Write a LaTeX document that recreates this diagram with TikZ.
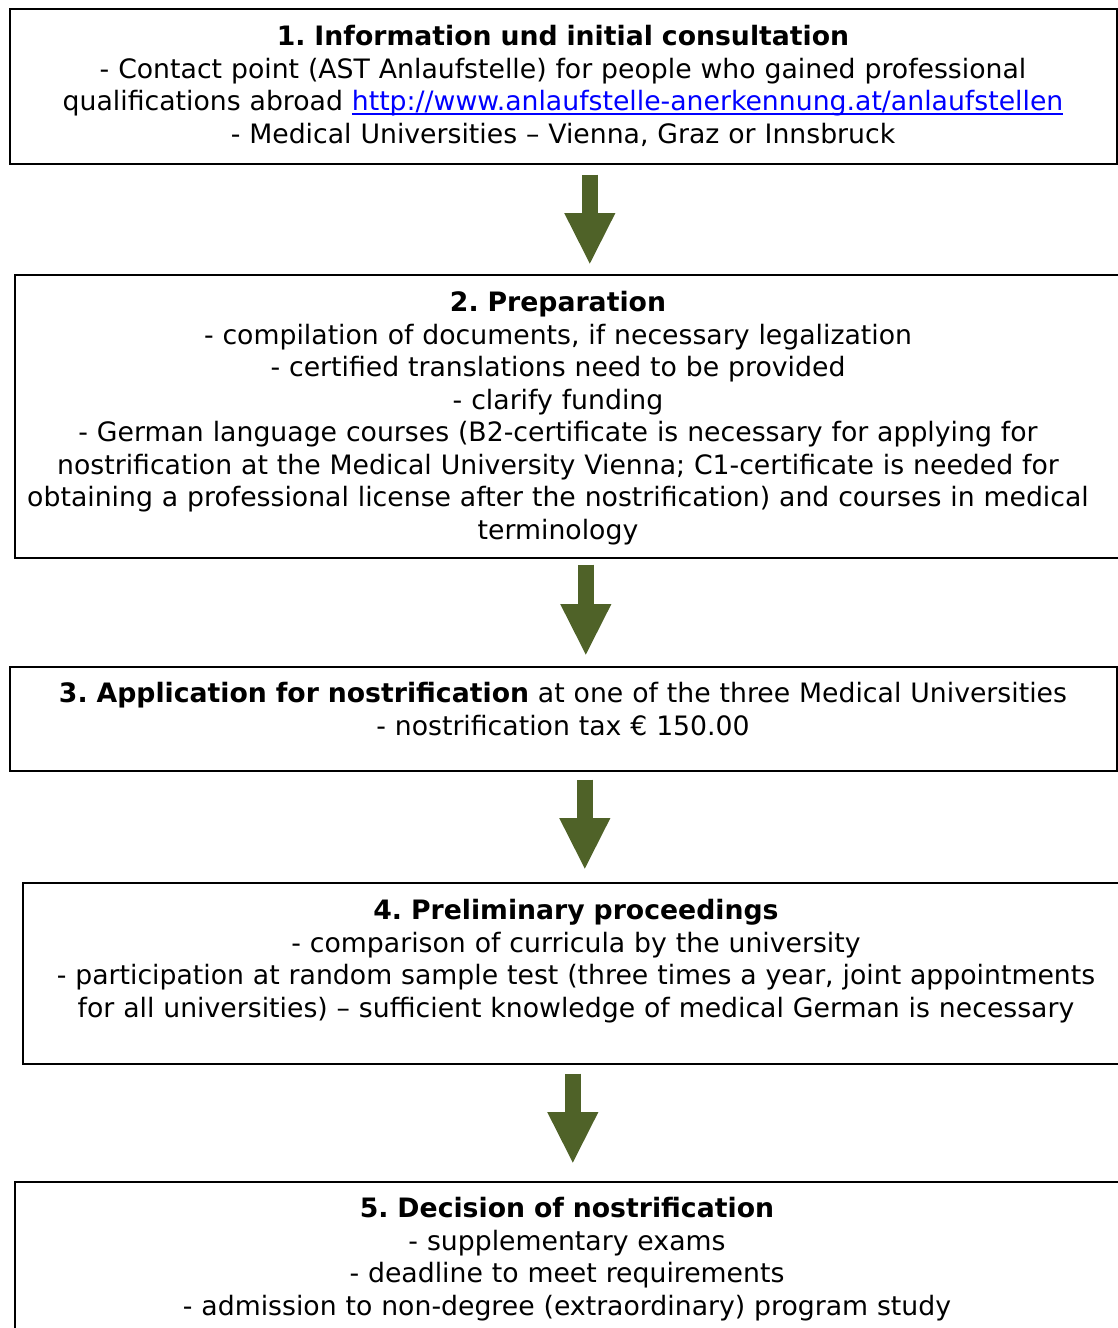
\documentclass[tikz,border=0pt]{standalone}
\usepackage{fontspec}
\setmainfont{DejaVu Sans}
\usetikzlibrary{arrows.meta}
\definecolor{arrowgreen}{HTML}{4F6228}
\definecolor{linkblue}{HTML}{0000FF}
\newcommand\linkline[1]{\setbox0\hbox{#1}\rlap{\raisebox{-4pt}{\rule{\wd0}{1.6pt}}}\box0}
\frenchspacing

\begin{document}
\begin{tikzpicture}[x=1pt,y=1pt,
    stepframe/.style={draw, line width=1.6pt, inner sep=0pt, anchor=north west},
    steptext/.style={inner sep=0pt, text width=1110pt, align=center, anchor=base,
      font=\fontsize{26.7}{32.5}\selectfont},
    flow/.style={arrowgreen, line width=16pt, -{Triangle[width=47pt,length=52pt]}}]
             \useasboundingbox (0,0) rectangle (1118,-1328);
             \node[stepframe, minimum width=1107pt, minimum height=155pt] (b1) at (9,-8) {};
             \node[stepframe, minimum width=1111pt, minimum height=283pt] (b2) at (14,-274) {};
             \node[stepframe, minimum width=1107pt, minimum height=104pt] (b3) at (9,-666) {};
             \node[stepframe, minimum width=1103pt, minimum height=181pt] (b4) at (22,-882) {};
             \node[stepframe, minimum width=1111pt, minimum height=159pt] (b5) at (14,-1181) {};
             \node[steptext] (t1) at (563,-45.5) {\textbf{1. Information und initial consultation}\\
               - Contact point (AST Anlaufstelle) for people who gained professional\\
               qualifications abroad \textcolor{linkblue}{\linkline{http://www.anlaufstelle-anerkennung.at/anlaufstellen}}\\
               - Medical Universities – Vienna, Graz or Innsbruck};
             \node[steptext] (t2) at (558,-311.5) {\textbf{2. Preparation}\\
               - compilation of documents, if necessary legalization\\
               - certified translations need to be provided\\
               - clarify funding\\
               - German language courses (B2-certificate is necessary for applying for\\
               nostrification at the Medical University Vienna; C1-certificate is needed for\\
               obtaining a professional license after the nostrification) and courses in medical\\
               terminology};
             \node[steptext] (t3) at (563,-702.5) {\textbf{3. Application for nostrification} at one of the three Medical Universities\\
               - nostrification tax € 150.00};
             \node[steptext] (t4) at (576,-919.5) {\textbf{4. Preliminary proceedings}\\
               - comparison of curricula by the university\\
               - participation at random sample test (three times a year, joint appointments\\
               for all universities) – sufficient knowledge of medical German is necessary};
             \node[steptext] (t5) at (567,-1217.5) {\textbf{5. Decision of nostrification}\\
               - supplementary exams\\
               - deadline to meet requirements\\
               - admission to non-degree (extraordinary) program study};
             % arrows between the steps
             \draw[flow] ([xshift=26.5pt,yshift=-10pt]b1.south) -- ([xshift=19.5pt,yshift=9pt]b2.north);
             \draw[flow] ([xshift=15.5pt,yshift=-6pt]b2.south) -- ([xshift=22.5pt,yshift=10pt]b3.north);
             \draw[flow] ([xshift=21.5pt,yshift=-8pt]b3.south) -- ([xshift=10.5pt,yshift=12pt]b4.north);
             \draw[flow] ([xshift=-1.5pt,yshift=-9pt]b4.south) -- ([xshift=2.5pt,yshift=17pt]b5.north);
            \end{tikzpicture}
\end{document}
